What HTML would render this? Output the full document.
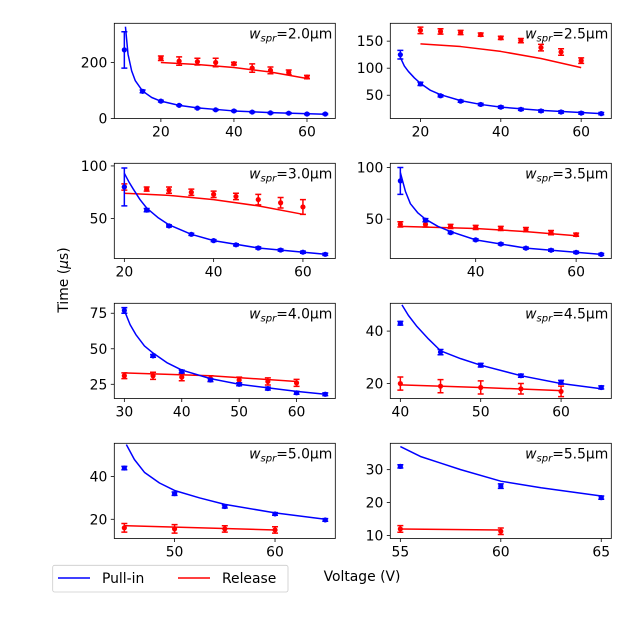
<!DOCTYPE html>
<html><head><meta charset="utf-8">
<style>
html,body{margin:0;padding:0;background:#fff;}
svg{display:block;font-family:"DejaVu Sans","Liberation Sans",sans-serif;}
</style></head>
<body>
<svg id="fig" width="640" height="625" viewBox="0 0 640 625"></svg>
<script>
// ---- data arrays (top level) ----
const panelLabels = ["2.0","2.5","3.0","3.5","4.0","4.5","5.0","5.5"];
const xLims = [[7.25,67.75],[12.5,67.5],[17.75,67.25],[23,67],[28.25,66.75],[38.75,66.25],[44,66],[54.5,65.5]];
const yLims = [[0,340],[7,183],[12,102.5],[12,104],[15,82],[14.3,50.6],[11,55.6],[9.1,38]];
const xTicks = [[20,40,60],[20,40,60],[20,40,60],[40,60],[30,40,50,60],[40,50,60],[50,60],[55,60,65]];
const yTicks = [[0,200],[50,100,150],[50,100],[50,100],[25,50,75],[20,40],[20,40],[10,20,30]];

const pullV = [
 [10,15,20,25,30,35,40,45,50,55,60,65],
 [15,20,25,30,35,40,45,50,55,60,65],
 [20,25,30,35,40,45,50,55,60,65],
 [25,30,35,40,45,50,55,60,65],
 [30,35,40,45,50,55,60,65],
 [40,45,50,55,60,65],
 [45,50,55,60,65],
 [55,60,65]];
const pullT = [
 [245,97,62,47,37,31,27,23,20,19,16,16],
 [125,71,49,39,33,28,24,21,19,17,16],
 [80,58,43,35,29,25,22,20,18,16],
 [87,49,37,30,26,22,20,18,16],
 [77,45,34,28,25,22,19,18],
 [43,32,27,23,20.5,18.5],
 [44,32,26,22.5,19.7],
 [31,25,21.5]];
const pullErr = [
 [65,5,3,2,2,2,2,2,2,2,2,2],
 [8,3,2,2,2,2,2,2,2,2,2],
 [18,1.5,1,1,1,1,1,1,1,1],
 [13,1.5,1,1,1,1,1,1,1],
 [2,1,1,1,1,1,1,1],
 [0.7,1,0.7,0.6,0.7,0.6],
 [0.8,0.8,0.7,0.6,0.6],
 [0.5,0.7,0.5]];
const pullFitV = [
 [10.3,11,12,13,15,17.5,20,25,30,40,50,65],
 [15,16,17,18.5,20,22.5,25,30,35,40,50,65],
 [20,21,22,23.5,25,27.5,30,35,40,50,65],
 [25,26,27,28.5,30,32.5,35,40,50,65],
 [30,31,32,33.5,35,37.5,40,45,50,60,65],
 [40.2,41,42,43.5,45,47.5,50,55,60,65],
 [45.2,46,47,48.5,50,52.5,55,60,65],
 [55,56,57,58,60,62,65]];
const pullFitT = [
 [328,230,170,135,98,75,62,47,38,27,21,15],
 [120,104,94,82,72,59,51,40,33,28,22,16],
 [93,85,78,68,60,51,44,35,29,22,16],
 [95,77,65,56,50,43,38,30,22,16],
 [77,67,60,52,47,40,35,29,25,20,18],
 [50,46,42,37,32.5,29.5,27,23,20,18],
 [55,48,42,37,33.5,30,27,23,20],
 [37,34,32,30,26.5,24.5,22]];

const relV = [
 [20,25,30,35,40,45,50,55,60],
 [20,25,30,35,40,45,50,55,60],
 [20,25,30,35,40,45,50,55,60],
 [25,30,35,40,45,50,55,60],
 [30,35,40,45,50,55,60],
 [40,45,50,55,60],
 [45,50,55,60],
 [55,60]];
const relT = [
 [215,205,203,200,196,180,172,165,148],
 [170,168,166,162,156,151,138,130,114],
 [80,78,77,75,73,71,68,65,61],
 [45,45,43,42,41,40,37,35],
 [31,31,30,29,28,27,26],
 [20,19,18.5,18,17],
 [16,15.5,15.5,15],
 [12,11.3]];
const relErr = [
 [8,15,12,15,5,15,12,8,6],
 [6,5,4,3,3,4,6,6,5],
 [3,2,3,3,3,3,5,5,7],
 [2.5,2.5,2,2,2,2,2,1.5],
 [2,2.5,2.5,2,2,2.5,2.5],
 [2.5,2.5,2.5,2,2],
 [2,2,1.5,1.5],
 [1,1]];
const relFitV = [
 [20,30,40,50,60],
 [20,30,40,50,60],
 [20,30,40,50,60],
 [25,40,50,60],
 [30,45,60],
 [40,50,60],
 [45,60],
 [55,60]];
const relFitT = [
 [200,193,182,166,143],
 [145,140,131,118,101],
 [74,72,68,62,54],
 [43,41,38,34],
 [33,31,27],
 [19.5,18.5,17.3],
 [17,15],
 [12,11.7]];

// ---- layout ----
const colX = [[114.3,335.3],[390.3,611.3]];
const rowY = [[23.3,118.5],[163.3,258.5],[303.3,398.5],[443.3,538.5]];
const NS = "http://www.w3.org/2000/svg";
const svg = document.getElementById('fig');
function mk(tag, attrs, parent){
  const e = document.createElementNS(NS, tag);
  for (const k in attrs) e.setAttribute(k, attrs[k]);
  (parent||svg).appendChild(e);
  return e;
}

function drawSeries(g, sx, sy, V, T, E, FV, FT, color, name){
  let d = "";
  FV.forEach((v,i)=>{ d += (i?"L":"M") + sx(v).toFixed(2) + "," + sy(FT[i]).toFixed(2); });
  const fit = mk('path', {d:d, fill:'none', stroke:color, 'stroke-width':1.5, 'stroke-linejoin':'round', 'clip-path':g.clip}, g.el);
  
  
  V.forEach((v,i)=>{
    const x = sx(v), y1 = sy(T[i]-E[i]), y2 = sy(T[i]+E[i]), y = sy(T[i]);
    const eb = mk('path', {d:`M${x},${y1}L${x},${y2}M${x-3},${y1}L${x+3},${y1}M${x-3},${y2}L${x+3},${y2}`, stroke:color, 'stroke-width':1.5, fill:'none', 'clip-path':g.clip}, g.el);
    
    
    const c = mk('circle', {cx:x, cy:y, r:2.6, fill:color, 'clip-path':g.clip}, g.el);
    
    
  });
}

for (let p = 0; p < 8; p++){
  const [x0,x1] = colX[p%2], [y0,y1] = rowY[Math.floor(p/2)];
  const [xa,xb] = xLims[p], [ya,yb] = yLims[p];
  const sx = v => x0 + (v-xa)/(xb-xa)*(x1-x0);
  const sy = v => y1 - (v-ya)/(yb-ya)*(y1-y0);
  const grp = mk('g', {});
  
  
  const cp = mk('clipPath', {id:'c'+p}, grp);
  mk('rect', {x:x0, y:y0, width:x1-x0, height:y1-y0}, cp);
  const g = {el:grp, clip:'url(#c'+p+')'};
  xTicks[p].forEach(t=>{
    const x = sx(t);
    mk('line', {x1:x, x2:x, y1:y1, y2:y1+3.5, stroke:'#000', 'stroke-width':0.8}, grp);
    const tx = mk('text', {x:x, y:y1+18, 'font-size':13.9, 'text-anchor':'middle', fill:'#000'}, grp);
    tx.textContent = t;
    
    
  });
  yTicks[p].forEach(t=>{
    const y = sy(t);
    mk('line', {x1:x0-3.5, x2:x0, y1:y, y2:y, stroke:'#000', 'stroke-width':0.8}, grp);
    const ty = mk('text', {x:x0-7, y:y+5, 'font-size':13.9, 'text-anchor':'end', fill:'#000'}, grp);
    ty.textContent = t;
    
    
  });
  drawSeries(g, sx, sy, relV[p], relT[p], relErr[p], relFitV[p], relFitT[p], '#ff0000', 'release');
  drawSeries(g, sx, sy, pullV[p], pullT[p], pullErr[p], pullFitV[p], pullFitT[p], '#0000ff', 'pull-in');
  const fr = mk('rect', {x:x0, y:y0, width:x1-x0, height:y1-y0, fill:'none', stroke:'#000', 'stroke-width':0.8}, grp);
  
  
  const tl = mk('text', {x:x1-3, y:y0+15, 'font-size':13.9, 'text-anchor':'end', fill:'#000'}, grp);
  tl.innerHTML = '<tspan font-style="italic">w</tspan><tspan font-style="italic" font-size="10" dy="3">spr</tspan><tspan dy="-3">=' + panelLabels[p] + 'μm</tspan>';
  
  
}
</script>
<script>
(function(){
  const s = document.getElementById('fig');
  const NS = "http://www.w3.org/2000/svg";
  const yl = document.createElementNS(NS,'text');
  yl.setAttribute('x',0); yl.setAttribute('y',0);
  yl.setAttribute('transform','translate(68,280) rotate(-90)');
  yl.setAttribute('font-size','13.9'); yl.setAttribute('text-anchor','middle');
  yl.innerHTML = 'Time (<tspan font-style="italic">μ</tspan>s)';
  
  
  s.appendChild(yl);
  const xl = document.createElementNS(NS,'text');
  xl.setAttribute('x',362); xl.setAttribute('y',581);
  xl.setAttribute('font-size','13.9'); xl.setAttribute('text-anchor','middle');
  xl.textContent = 'Voltage (V)';
  
  
  s.appendChild(xl);
  const lg = document.createElementNS(NS,'g');
  
  
  lg.innerHTML =
   '<rect x="52.7" y="565.3" width="235.3" height="26.7" rx="2" fill="#fff" stroke="#ccc" stroke-width="0.8"/>' +
   '<line x1="58" y1="578" x2="90" y2="578" stroke="#0000ff" stroke-width="1.5"/>' +
   '<text x="102" y="583" font-size="13.9">Pull-in</text>' +
   '<line x1="178" y1="578" x2="210" y2="578" stroke="#ff0000" stroke-width="1.5"/>' +
   '<text x="222" y="583" font-size="13.9">Release</text>';
  s.appendChild(lg);
})();
</script>
</body></html>
